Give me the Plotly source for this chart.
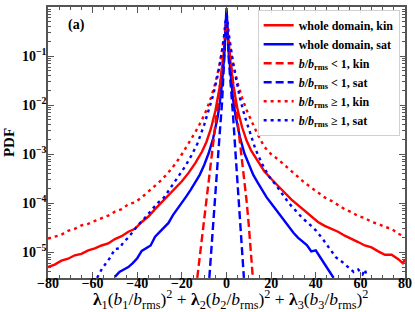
import plotly.graph_objects as go
import numpy as np

# ---- data (x, log10 PDF) ----
whole_kin_x = [-80, -77, -74, -71, -68, -65, -62, -59, -56, -53, -50, -47, -44, -41, -38, -35, -32, -29, -26, -23,
               -20, -17, -14, -11, -9, -7, -5, -3, -2, -1, 0, 1, 2, 3, 5, 7, 9, 11, 14, 17, 20, 23, 26, 29, 32, 35,
               38, 41, 44, 47, 50, 53, 56, 59, 62, 65, 68, 71, 74, 77, 79, 80]
whole_kin_log10pdf = [-5.30, -5.25, -5.17, -5.13, -5.06, -5.03, -4.96, -4.92, -4.86, -4.82, -4.73, -4.67, -4.58, -4.52,
                      -4.38, -4.27, -4.12, -3.98, -3.84, -3.68, -3.55, -3.38, -3.18, -2.95, -2.75, -2.48, -2.12, -1.62,
                      -1.26, -0.85, -0.30, -0.80, -1.22, -1.58, -2.10, -2.45, -2.72, -2.92, -3.15, -3.35, -3.50, -3.63,
                      -3.78, -3.92, -4.04, -4.15, -4.27, -4.38, -4.46, -4.52, -4.58, -4.66, -4.72, -4.79, -4.86, -4.90,
                      -4.98, -5.05, -5.05, -5.14, -5.22, -5.15]

whole_sat_x = [-50, -48, -46, -44, -42, -40, -38, -36, -34, -32, -30, -28, -26, -24, -22, -20, -18, -16, -14, -12, -10,
               -8, -6, -4, -3, -2, -1, 0, 1, 2, 3, 4, 6, 8, 10, 12, 14, 16, 18, 20, 22, 24, 26, 28, 30, 32, 34, 36, 38,
               40, 42, 44, 46, 48]
whole_sat_log10pdf = [-5.50, -5.40, -5.35, -5.30, -5.22, -5.12, -4.97, -4.92, -4.86, -4.68, -4.58, -4.48, -4.40, -4.24,
                      -4.12, -4.00, -3.86, -3.72, -3.56, -3.42, -3.22, -2.98, -2.68, -2.25, -1.95, -1.55, -1.00, -0.02,
                      -0.95, -1.50, -1.90, -2.20, -2.65, -2.98, -3.22, -3.42, -3.58, -3.74, -3.88, -4.00, -4.12, -4.26,
                      -4.36, -4.50, -4.60, -4.70, -4.78, -4.85, -4.98, -4.96, -5.10, -5.25, -5.38, -5.52]

weak_kin_x = [-13.1, -12, -11, -10, -9, -8, -7, -6, -5, -4, -3, -2, -1, 0, 1, 2, 3, 4, 5, 6, 7, 8, 9, 10, 11, 11.8]
weak_kin_log10pdf = [-5.52, -5.10, -4.72, -4.35, -3.98, -3.60, -3.22, -2.85, -2.45, -2.05, -1.65, -1.25, -0.80, -0.30,
                     -0.75, -1.15, -1.50, -1.85, -2.25, -2.65, -3.05, -3.50, -3.95, -4.45, -4.95, -5.52]

weak_sat_x = [-7.7, -7, -6, -5, -4, -3, -2, -1, 0, 1, 2, 3, 4, 5, 6, 7, 7.8]
weak_sat_log10pdf = [-5.52, -5.05, -4.42, -3.80, -3.15, -2.55, -1.95, -1.10, -0.08, -1.05, -1.60, -2.25, -2.95, -3.60,
                     -4.30, -4.95, -5.52]

strong_kin_x = [-80, -77, -74, -71, -68, -65, -62, -59, -56, -53, -50, -47, -44, -41, -38, -35, -32, -29, -26, -23,
                -20, -17, -14, -11, -9, -7, -5, -3, -2, -1, 0, 1, 2, 3, 5, 7, 9, 11, 14, 17, 20, 23, 26, 29, 32, 35,
                38, 41, 44, 47, 50, 53, 56, 59, 62, 65, 68, 71, 74, 77, 79]
strong_kin_log10pdf = [-4.72, -4.68, -4.64, -4.56, -4.52, -4.45, -4.42, -4.36, -4.30, -4.25, -4.17, -4.12, -4.02, -3.98,
                       -3.88, -3.76, -3.64, -3.52, -3.37, -3.20, -3.00, -2.78, -2.55, -2.30, -2.10, -1.85, -1.55, -1.15,
                       -0.90, -0.60, -0.25, -0.60, -0.90, -1.15, -1.55, -1.85, -2.10, -2.30, -2.60, -2.85, -3.00, -3.10,
                       -3.22, -3.35, -3.47, -3.58, -3.68, -3.78, -3.88, -3.95, -4.04, -4.12, -4.18, -4.26, -4.30, -4.38,
                       -4.42, -4.48, -4.52, -4.62, -4.66]

strong_sat_x = [-58, -56, -54, -52, -50, -48, -46, -44, -42, -40, -37, -34, -31, -28, -25, -22, -19, -16, -13, -10, -8,
                -6, -4, -3, -2, -1, 0, 1, 2, 3, 4, 6, 8, 10, 13, 16, 19, 22, 25, 28, 31, 34, 37, 40, 43, 46, 49, 52,
                55, 57, 59, 61, 62, 63]
strong_sat_log10pdf = [-5.52, -5.35, -5.22, -5.10, -4.93, -4.92, -4.78, -4.70, -4.58, -4.46, -4.32, -4.15, -4.00, -3.88,
                       -3.68, -3.48, -3.28, -3.05, -2.78, -2.40, -2.12, -1.80, -1.40, -1.15, -0.90, -0.55, -0.10, -0.55,
                       -0.90, -1.15, -1.40, -1.85, -2.20, -2.50, -2.90, -3.20, -3.45, -3.62, -3.80, -4.00, -4.15, -4.30,
                       -4.42, -4.55, -4.72, -4.90, -5.10, -5.20, -5.32, -5.40, -5.35, -5.45, -5.35, -5.50]

series_names = [
    "<b>whole domain, kin</b>",
    "<b>whole domain, sat</b>",
    "<b><i>b</i>/<i>b</i><sub>rms</sub> &lt; 1, kin</b>",
    "<b><i>b</i>/<i>b</i><sub>rms</sub> &lt; 1, sat</b>",
    "<b><i>b</i>/<i>b</i><sub>rms</sub> ≥ 1, kin</b>",
    "<b><i>b</i>/<i>b</i><sub>rms</sub> ≥ 1, sat</b>",
]

y_tick_exponents = [0, -1, -2, -3, -4, -5]
y_tick_labels = ["10<sup>0</sup>", "10<sup>−1</sup>", "10<sup>−2</sup>", "10<sup>−3</sup>", "10<sup>−4</sup>",
                 "10<sup>−5</sup>"]
x_tick_vals = [-80, -60, -40, -20, 0, 20, 40, 60, 80]
x_tick_labels = ["−80", "−60", "−40", "−20", "0", "20", "40", "60", "80"]

x_title = ("<b>λ</b><sub>1</sub>(<i>b</i><sub>1</sub>/<i>b</i><sub>rms</sub>)<sup>2</sup> + "
           "<b>λ</b><sub>2</sub>(<i>b</i><sub>2</sub>/<i>b</i><sub>rms</sub>)<sup>2</sup> + "
           "<b>λ</b><sub>3</sub>(<i>b</i><sub>3</sub>/<i>b</i><sub>rms</sub>)<sup>2</sup>")

RED = "#ff0000"
BLUE = "#0000ff"
FONT = "Liberation Serif"

series = [
    (whole_kin_x, whole_kin_log10pdf, RED, "solid"),
    (whole_sat_x, whole_sat_log10pdf, BLUE, "solid"),
    (weak_kin_x, weak_kin_log10pdf, RED, "8px,4px"),
    (weak_sat_x, weak_sat_log10pdf, BLUE, "8px,4px"),
    (strong_kin_x, strong_kin_log10pdf, RED, "3px,4px"),
    (strong_sat_x, strong_sat_log10pdf, BLUE, "3px,4px"),
]

fig = go.Figure()
for (xs, ls, col, dash), name in zip(series, series_names):
    fig.add_trace(go.Scatter(
        x=xs, y=10 ** np.array(ls), mode="lines", name=name,
        line=dict(color=col, width=2.4, dash=dash),
    ))

axis_col = "#555555"
fig.update_layout(
    width=415, height=312,
    margin=dict(l=48, r=10, t=7, b=34, autoexpand=False),
    paper_bgcolor="white", plot_bgcolor="white",
    font=dict(family=FONT, color="black", size=12),
    showlegend=True,
    legend=dict(
        x=0.985, y=0.99, xanchor="right", yanchor="top",
        bgcolor="rgba(255,255,255,0.85)", bordercolor="#d0d0d0", borderwidth=1,
        font=dict(family=FONT, size=12, color="black"),
        tracegroupgap=0, itemwidth=30,
    ),
    xaxis=dict(
        range=[-80, 80], tickvals=x_tick_vals, ticktext=["<b>%s</b>" % t for t in x_tick_labels],
        ticks="inside", ticklen=6, tickcolor=axis_col, tickwidth=1.2,
        showline=True, linecolor=axis_col, linewidth=1.5, mirror="allticks",
        showgrid=False, zeroline=False, automargin=False,
        tickfont=dict(family=FONT, size=14), ticklabelstandoff=-9,
        minor=dict(ticks="inside", ticklen=3, dtick=5, tickcolor=axis_col, showgrid=False),
    ),
    yaxis=dict(
        type="log", range=[np.log10(3e-6), 0.002],
        tickvals=[10.0 ** e for e in y_tick_exponents],
        ticktext=["<b>%s</b>" % t for t in y_tick_labels],
        ticks="inside", ticklen=6, tickcolor=axis_col, tickwidth=1.2,
        showline=True, linecolor=axis_col, linewidth=1.5, mirror="allticks",
        showgrid=False, zeroline=False, automargin=False,
        tickfont=dict(family=FONT, size=14), ticklabelstandoff=-3,
        minor=dict(ticks="inside", ticklen=3, dtick="D1", tickcolor=axis_col, showgrid=False),
        title=dict(text="<b>PDF</b>", font=dict(family=FONT, size=15), standoff=4),
    ),
)

fig.add_annotation(
    x=0.51, y=-0.081, xref="paper", yref="paper", xanchor="center", yanchor="middle",
    text=x_title, showarrow=False, font=dict(family=FONT, size=17.5, color="black"),
)
fig.add_annotation(
    x=0.05, y=0.933, xref="paper", yref="paper", xanchor="left", yanchor="middle",
    text="<b>(a)</b>", showarrow=False, font=dict(family=FONT, size=14, color="black"),
)

fig.write_html("out.html", config={"displayModeBar": False},
               post_script="document.body.style.margin='0';")
